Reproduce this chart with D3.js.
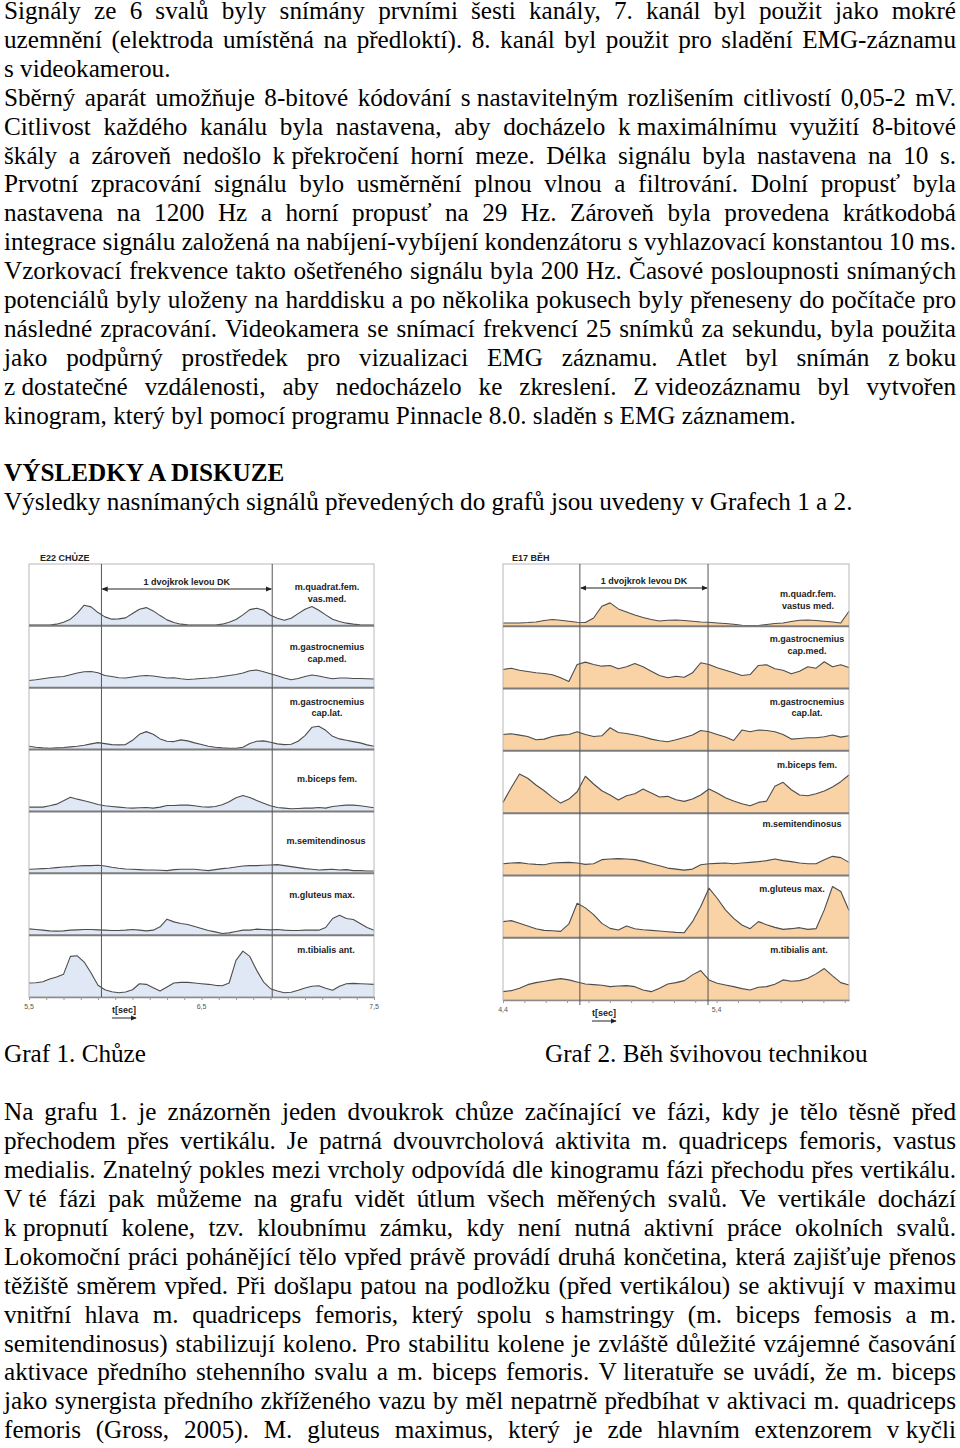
<!DOCTYPE html>
<html>
<head>
<meta charset="utf-8">
<script src="https://cdn.jsdelivr.net/npm/d3@7"></script>
<style>
  body { margin: 0; background: #fff; }
  svg { display: block; }
</style>
</head>
<body>
<script>
// ---- text of the page ----
const introLines = [
  "Signály ze 6 svalů byly snímány prvními šesti kanály, 7. kanál byl použit jako mokré",
  "uzemnění (elektroda umístěná na předloktí). 8. kanál byl použit pro sladění EMG-záznamu",
  "s videokamerou.",
  "Sběrný aparát umožňuje 8-bitové kódování s\u00a0nastavitelným rozlišením citlivostí 0,05-2 mV.",
  "Citlivost každého kanálu byla nastavena, aby docházelo k\u00a0maximálnímu využití 8-bitové",
  "škály a zároveň nedošlo k\u00a0překročení horní meze. Délka signálu byla nastavena na 10 s.",
  "Prvotní zpracování signálu bylo usměrnění plnou vlnou a filtrování. Dolní propusť byla",
  "nastavena na 1200 Hz a horní propusť na 29 Hz. Zároveň byla provedena krátkodobá",
  "integrace signálu založená na nabíjení-vybíjení kondenzátoru s\u00a0vyhlazovací konstantou 10 ms.",
  "Vzorkovací frekvence takto ošetřeného signálu byla 200 Hz. Časové posloupnosti snímaných",
  "potenciálů byly uloženy na harddisku a po několika pokusech byly přeneseny do počítače pro",
  "následné zpracování. Videokamera se snímací frekvencí 25 snímků za sekundu, byla použita",
  "jako podpůrný prostředek pro vizualizaci EMG záznamu. Atlet byl snímán z\u00a0boku",
  "z\u00a0dostatečné vzdálenosti, aby nedocházelo ke zkreslení. Z\u00a0videozáznamu byl vytvořen",
  "kinogram, který byl pomocí programu Pinnacle 8.0. sladěn s\u00a0EMG záznamem."
];
const introJustified = [1,1,0,1,1,1,1,1,1,1,1,1,1,1,0];
const heading = "VÝSLEDKY A DISKUZE";
const resultsLine = "Výsledky nasnímaných signálů převedených do grafů jsou uvedeny v\u00a0Grafech 1 a 2.";
const captions = ["Graf 1. Chůze", "Graf 2. Běh švihovou technikou"];
const discussionLines = [
  "Na grafu 1. je znázorněn jeden dvoukrok chůze začínající ve fázi, kdy je tělo těsně před",
  "přechodem přes vertikálu. Je patrná dvouvrcholová aktivita m. quadriceps femoris, vastus",
  "medialis. Znatelný pokles mezi vrcholy odpovídá dle kinogramu fázi přechodu přes vertikálu.",
  "V\u00a0té fázi pak můžeme na grafu vidět útlum všech měřených svalů. Ve vertikále dochází",
  "k\u00a0propnutí kolene, tzv. kloubnímu zámku, kdy není nutná aktivní práce okolních svalů.",
  "Lokomoční práci pohánějící tělo vpřed právě provádí druhá končetina, která zajišťuje přenos",
  "těžiště směrem vpřed. Při došlapu patou na podložku (před vertikálou) se aktivují v maximu",
  "vnitřní hlava m. quadriceps femoris, který spolu s\u00a0hamstringy (m. biceps femosis a m.",
  "semitendinosus) stabilizují koleno. Pro stabilitu kolene je zvláště důležité vzájemné časování",
  "aktivace předního stehenního svalu a m. biceps femoris. V\u00a0literatuře se uvádí, že m. biceps",
  "jako synergista předního zkříženého vazu by měl nepatrně předbíhat v aktivaci m. quadriceps",
  "femoris (Gross, 2005). M. gluteus maximus, který je zde hlavním extenzorem v\u00a0kyčli"
];

// ---- chart 1: walking (E22 CHŮZE), samples every 0.04 s from 5.5 s to 7.5 s ----
const walkTitle = "E22 CHŮZE";
const walkDomain = [5.5, 7.5];
const walkStride = [5.92, 6.91];
const walkTickLabels = [5.5, 6.5, 7.5];
const walkMuscles = [["m.quadrat.fem.", "vas.med."], ["m.gastrocnemius", "cap.med."], ["m.gastrocnemius", "cap.lat."],
  ["m.biceps fem."], ["m.semitendinosus"], ["m.gluteus max."], ["m.tibialis ant."]];
const walkQuadFem = [0.7,0.7,0.7,0.7,1.7,3.7,6.7,12.7,20.7,19, 13.3,9,6.7,7,8,12.3,16.7,18.3,15,10.3,
  6,3.3,1.7,1,0.7,0.7,0.7,0.7,1.7,3.7, 6.3,11,16.3,17.7,15.7,10.7,7.7,5.7,7.7,12.3, 16.7,19.3,15.7,11,6.7,4.3,2.7,1.7,1,0.7,0.7];
const walkGastMed = [7.3,8,9,10,10.7,11.3,13,14.7,16,16.3, 15,12.3,11.3,10,9.7,10.7,11.7,12.3,11.7,10.7,
  9.7,10,9,8.3,8.7,9.3,9.7,10.3,11.3,12.3, 13.3,14.7,17,17.7,16,14,12,9.7,8,9.3, 11.3,12.7,11.7,10.3,9,9.7,9.7,9.3,9.3,9,8.7];
const walkGastLat = [3.3,2.3,1.7,1.3,1.7,2,2.7,3.3,4.3,5.7, 7,6,5,4.7,5,9.3,15.3,18,15.3,10.7,
  8.3,8,9.7,8.7,6.7,5,3.3,2.3,1.7,1.3, 1.3,2.3,6,8.3,8.7,7.3,5.7,5,5.3,8.3, 14,22.3,23.3,19.3,13.3,10.7,9.3,8,6.7,4.7,3.3];
const walkBiceps = [4.3,4.3,4.3,5.7,7.3,10.7,14.3,12.3,10.7,9, 7,5.7,5,4.3,3.7,3.3,3.7,4,3.3,4.3,
  6,6,6.3,6.3,5.7,4.7,4.3,5,6.7,9.7, 13.7,16,14,11,8.3,5.7,4,3.3,2.7,3, 3.3,3.3,4,3.3,5,5.7,6.3,6.3,5.7,4.7,3.7];
const walkSemiten = [4,4.3,4.7,5,5.7,6.3,6.7,7.3,7.7,7.7, 8,7.3,6,5,4.3,4,3.7,3.3,3.3,3,
  2.7,3.7,4,4,4,3.3,2.7,3.7,4.7,5.3, 6.3,7.3,7.7,7.7,8,8.3,8.7,7.7,6.7,5.7, 4.7,4,3.3,3.7,4,3.3,3.7,2.7,2.7,2.3,2.3];
const walkGluteus = [6.3,5.7,5,4.3,4,4.3,5,5.3,5.7,5.7, 5.3,5,4.7,4.7,5,5.7,5,4.3,5,8.3,
  16,13.3,11.7,10.7,8.7,6.7,4.7,3.3,1.7,2.3, 3.7,5,5,6,5.7,5.3,5.7,5,4.7,4.7, 5,5,5,7.7,16.7,20,16.7,15.7,11.7,7.7,5];
const walkTibialis = [14,14.3,15.3,18,20,22.7,40.7,41.3,35,24, 11.7,7.3,5.3,4.3,5,7.3,13.3,12.7,9.3,6,
  10,14,14.7,14.7,14,13.3,12.7,11.7,11.3,14, 36.7,46,40.7,26.7,15,8.3,6,4.3,4.7,6.7, 9,10.7,11.3,8.7,6.7,10.7,13.3,13.7,13.3,13,12.7];

// ---- chart 2: running (E17 BĚH), 43 samples from 4.4 s to 6.02 s ----
const runTitle = "E17 BĚH";
const runDomain = [4.4, 6.02];
const runStride = [4.76, 5.36];
const runTickLabels = [4.4, 5.4];
const runMuscles = [["m.quadr.fem.", "vastus med."], ["m.gastrocnemius", "cap.med."], ["m.gastrocnemius", "cap.lat."],
  ["m.biceps fem."], ["m.semitendinosus"], ["m.gluteus max."], ["m.tibialis ant."]];
const runQuadFem = [3.3,3.3,3.3,3.7,4.3,5.7,6.7,6,5,4, 3.7,8.3,20,23.3,17.3,14.3,11.3,8.7,6.7,5.3,
  6,6.3,5.7,5,4.3,4,3.3,2.7,2,1, 0.7,0.7,1.7,2.7,3.3,4.7,6,6.3,5.7,5, 4.3,3.3,15];
const runGastMed = [19,20.3,18.3,17,15.7,15,13.7,10.7,7,24, 26.3,24,22.3,23,19.7,21.7,25,21.7,17.3,13,
  10.7,12.3,11.3,15.7,25.7,24,20.7,18.3,15.7,13, 14,23,23.7,19.7,18.3,14.7,17.3,21.7,20.3,26.7, 21.7,23.7,21];
const runGastLat = [16.3,17,15.7,14.3,11,11.7,14.3,15.7,16.3,19, 16.3,14.3,15,23,18.3,17.3,15.7,14,11.7,10,
  9,11,13.3,15.7,20.3,19,16.3,13.7,10.3,20.7, 19,20.7,20.3,19,16.3,11.7,12.3,13,13,14, 15.7,13.7,15];
const runBiceps = [10.7,25.3,39,34.7,28,22.3,15.7,10,14,21.3, 36.7,29,22.3,18,13,17.3,19.3,24,20,16,
  16.7,13.3,11.7,14,18,24,20,15.3,12,9.3, 7.3,10.7,12,26.7,30.7,23.3,18,17.3,19.3,22, 26,31.3,38];
const runSemiten = [11.7,12.3,12.7,11.7,11,10.7,12.3,12.7,13,12.3, 11,11.7,15.7,16.3,16.7,16.3,15.7,14,11.7,9.7,
  7.3,6.3,5.3,6.3,10.7,11.7,12,12.3,11.7,12.3, 13,13.7,14.7,16.3,14.7,13.7,12.3,11.7,11.7,15.7, 19,17.7,13];
const runGluteus = [16,17,14.3,11.7,9,7.3,7,6.3,13.7,34.3, 29.7,23,14.3,9.3,7.7,11.7,9,8,7.3,6.7,
  6,5.3,5,16,31,49.3,39.3,27.7,19.3,12.7, 9,16,13,10.3,8.3,9,10,8.3,9,27.7, 51,46,27];
const runTibialis = [8.3,9.3,11.7,15.3,17.3,18.7,20,21.3,20,18, 16,15.3,14.7,13.3,14,14.3,13.3,10,8.3,11.7,
  16,17.3,19.3,25,29.3,20,16.7,15,13.3,11.3, 10,12.7,13.3,15.7,20,18.7,19.3,21.7,26,31.3, 24,17.3,15];

const ampMax = 62;   // full height of one channel row (relative units)
const strideLabel = "1 dvojkrok levou DK";
const timeLabel = "t[sec]";

const W = 960, H = 1448;
const serif = "'Liberation Serif', 'Times New Roman', serif";
const sans = "'Liberation Sans', Arial, sans-serif";
const fmt = d3.formatLocale({decimal: ",", thousands: " ", grouping: [3], currency: ["", ""]}).format(".1f");

const svg = d3.select("body").append("svg").attr("width", W).attr("height", H);

const defs = svg.append("defs");
defs.append("marker").attr("id", "arr")
  .attr("viewBox", "0 -4 8 8").attr("refX", 7).attr("refY", 0)
  .attr("markerWidth", 6).attr("markerHeight", 6).attr("markerUnits", "userSpaceOnUse")
  .attr("orient", "auto-start-reverse")
  .append("path").attr("d", "M0,-3.5L8,0L0,3.5Z").attr("fill", "#222");

// ---- text blocks ----
const textLeft = 4, textWidth = 952, lineStep = 28.9, fontSize = 25.2;

function writeLine(str, y, justify, weight, x) {
  const t = svg.append("text")
    .attr("x", x === undefined ? textLeft : x).attr("y", y)
    .style("font-family", serif).style("font-size", fontSize + "px")
    .style("font-weight", weight || "normal").attr("fill", "#000");
  if (!justify) { t.text(str); return; }
  const words = str.split(" ");
  const widths = words.map(w => { t.text(w); return t.node().getComputedTextLength(); });
  t.text(null);
  const gap = (textWidth - d3.sum(widths)) / (words.length - 1);
  let cx = textLeft;
  words.forEach((w, i) => {
    t.append("tspan").attr("x", cx).text(w);
    cx += widths[i] + gap;
  });
}

introLines.forEach((s, i) => writeLine(s, 19 + i * lineStep, introJustified[i]));
writeLine(heading, 18.5 + 16 * lineStep, false, "bold");
writeLine(resultsLine, 18.5 + 17 * lineStep, false);
writeLine(captions[0], 1061.7, false, "normal", 4);
writeLine(captions[1], 1061.7, false, "normal", 545);
discussionLines.forEach((s, i) => writeLine(s, 1120.3 + i * lineStep, true));

// ---- EMG charts ----
function drawChart(c) {
  const g = svg.append("g");
  const x = d3.scaleLinear().domain(c.domain).range([c.left, c.right]);
  const rows = d3.scaleBand().domain(d3.range(c.series.length)).range([c.top, c.bottom]);
  const n = c.series[0].length;
  const tAt = i => c.domain[0] + i * (c.domain[1] - c.domain[0]) / (n - 1);

  const rowY = r => d3.scaleLinear().domain([0, ampMax]).range([rows(r) + rows.bandwidth(), rows(r)]);

  // filled traces
  c.series.forEach((vals, r) => {
    const y = rowY(r);
    g.append("path")
      .attr("d", d3.area().x((d, i) => x(tAt(i))).y0(y(0)).y1(d => y(d))(vals))
      .attr("fill", c.fill);
    g.append("path")
      .attr("d", d3.line().x((d, i) => x(tAt(i))).y(d => y(d))(vals))
      .attr("fill", "none").attr("stroke", "#4d4d4d").attr("stroke-width", 1.1)
      .attr("stroke-linejoin", "round");
  });

  // frame
  g.append("rect")
    .attr("x", c.left).attr("y", c.top)
    .attr("width", c.right - c.left).attr("height", c.bottom - c.top)
    .attr("fill", "none").attr("stroke", "#b8b8b8");

  // row separators
  g.selectAll(".sep").data(d3.range(c.series.length - 1)).join("line")
    .attr("x1", c.left).attr("x2", c.right)
    .attr("y1", r => rows(r) + rows.bandwidth()).attr("y2", r => rows(r) + rows.bandwidth())
    .attr("stroke", "#7c7c7c").attr("stroke-width", 2);

  // time axis with minor ticks every 0.1 s
  const minor = d3.range(Math.round(c.domain[0] * 10), Math.floor(c.domain[1] * 10 + 1e-6) + 1).map(v => v / 10);
  const ax = g.append("g").attr("transform", `translate(0,${c.bottom})`)
    .call(d3.axisBottom(x).tickValues(minor).tickSize(3).tickSizeOuter(0).tickFormat(""));
  ax.select(".domain").attr("stroke", "#8a8a8a").attr("stroke-width", 1.5);
  ax.selectAll(".tick line").attr("stroke", "#9a9a9a");

  g.selectAll(".tl").data(c.ticks).join("text")
    .attr("x", d => x(d)).attr("y", c.bottom + 12)
    .attr("text-anchor", "middle")
    .style("font-family", sans).style("font-size", "7px").attr("fill", "#555")
    .text(d => fmt(d));

  // stride lines
  g.selectAll(".stride").data(c.stride).join("line")
    .attr("x1", d => x(d)).attr("x2", d => x(d))
    .attr("y1", c.top).attr("y2", c.bottom + c.strideExtra)
    .attr("stroke", "#555").attr("stroke-width", 1);

  g.append("line")
    .attr("x1", x(c.stride[0]) + 1).attr("x2", x(c.stride[1]) - 1)
    .attr("y1", c.top + c.arrowDy).attr("y2", c.top + c.arrowDy)
    .attr("stroke", "#222").attr("stroke-width", 1)
    .attr("marker-start", "url(#arr)").attr("marker-end", "url(#arr)");
  g.append("text")
    .attr("x", (x(c.stride[0]) + x(c.stride[1])) / 2).attr("y", c.top + c.arrowDy - 4)
    .attr("text-anchor", "middle")
    .style("font-family", sans).style("font-size", "9px").style("font-weight", "bold").attr("fill", "#222")
    .text(strideLabel);

  // title
  g.append("text").attr("x", c.titleX).attr("y", c.top - 3)
    .style("font-family", sans).style("font-size", "9px").style("font-weight", "bold").attr("fill", "#222")
    .text(c.title);

  // muscle labels
  c.muscles.forEach((lines, r) => {
    lines.forEach((s, k) => {
      g.append("text")
        .attr("x", c.labelX[r]).attr("y", rows(r) + c.labelDy[r] + k * 11.5)
        .attr("dy", "0.35em").attr("text-anchor", "middle")
        .style("font-family", sans).style("font-size", "9px").style("font-weight", "bold").attr("fill", "#222")
        .text(s);
    });
  });

  // time label with arrow
  g.append("text").attr("x", c.timeX).attr("y", c.bottom + c.timeDy)
    .style("font-family", sans).style("font-size", "9px").style("font-weight", "bold").attr("fill", "#222")
    .text(timeLabel);
  g.append("line")
    .attr("x1", c.timeX).attr("x2", c.timeX + 24)
    .attr("y1", c.bottom + c.timeDy + 5).attr("y2", c.bottom + c.timeDy + 5)
    .attr("stroke", "#222").attr("stroke-width", 1).attr("marker-end", "url(#arr)");
}

drawChart({
  title: walkTitle, domain: walkDomain, stride: walkStride, ticks: walkTickLabels, muscles: walkMuscles,
  series: [walkQuadFem, walkGastMed, walkGastLat, walkBiceps, walkSemiten, walkGluteus, walkTibialis],
  fill: "#dfe8f4", left: 29, right: 374, top: 564, bottom: 997,
  titleX: 40, labelX: [327, 327, 327, 327, 326, 322, 326], labelDy: [23, 21, 14, 29, 29, 22, 15],
  arrowDy: 25, strideExtra: 0, timeX: 112, timeDy: 16
});

drawChart({
  title: runTitle, domain: runDomain, stride: runStride, ticks: runTickLabels, muscles: runMuscles,
  series: [runQuadFem, runGastMed, runGastLat, runBiceps, runSemiten, runGluteus, runTibialis],
  fill: "#f9d2a6", left: 503, right: 849, top: 564, bottom: 1000,
  titleX: 512, labelX: [808, 807, 807, 807, 802, 792, 799], labelDy: [30, 13, 13, 14, 11, 13, 12],
  arrowDy: 24, strideExtra: 5, timeX: 592, timeDy: 16
});
</script>
</body>
</html>
